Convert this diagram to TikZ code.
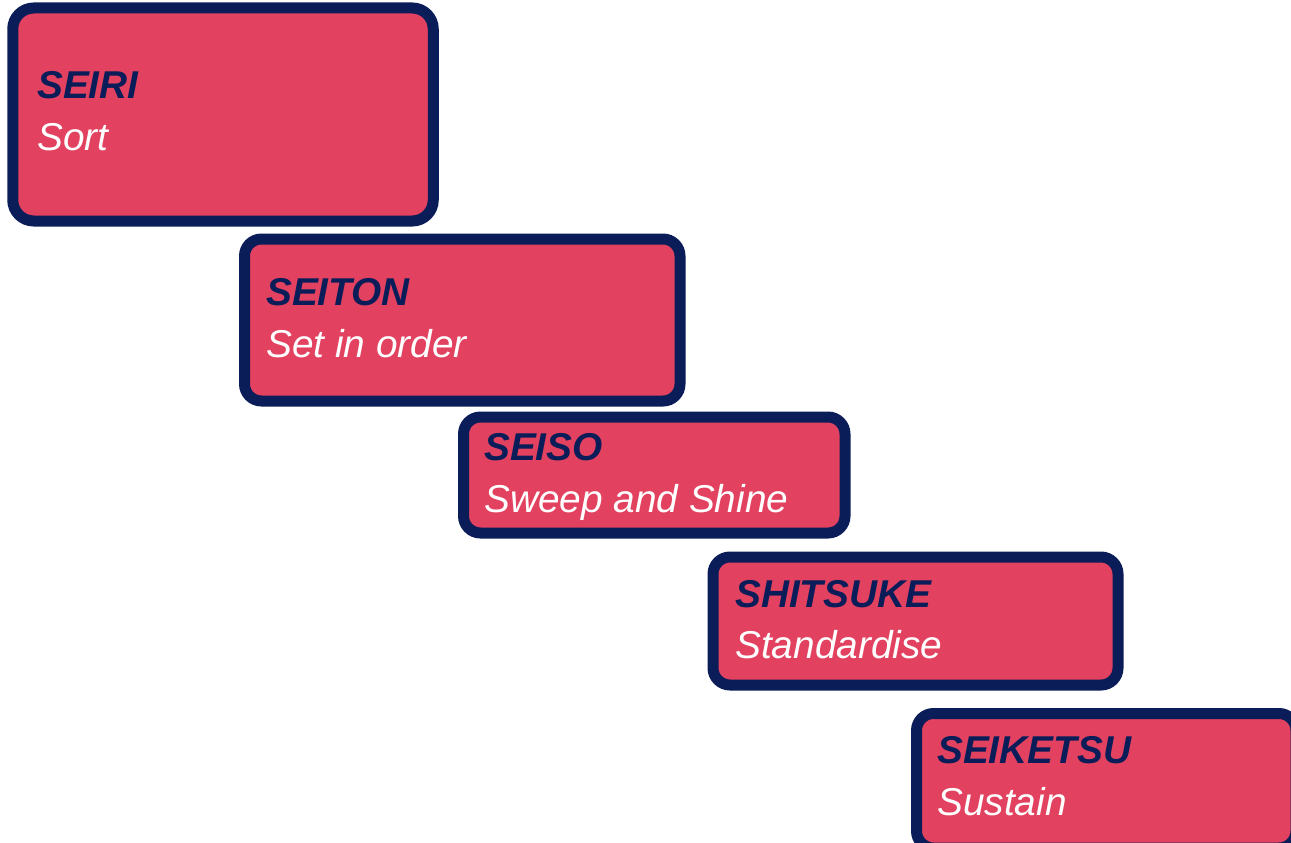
\documentclass[tikz,border=0pt]{standalone}
\usepackage{fontspec}
\setmainfont{Liberation Sans}
\definecolor{boxfill}{HTML}{E34160}
\definecolor{boxline}{HTML}{0A1D58}
\begin{document}
\begin{tikzpicture}[x=1pt,y=-1pt,
  sbox/.style={draw=boxline,fill=boxfill,line width=11pt,rounded corners=17pt,rectangle,inner sep=0pt},
  jp/.style={anchor=base west,inner sep=0pt,text=boxline,font=\fontsize{38.8}{46}\selectfont\bfseries\itshape},
  en/.style={anchor=base west,inner sep=0pt,text=white,font=\fontsize{38.8}{46}\selectfont\itshape}]
\useasboundingbox (0,0) rectangle (1291,843);
\node[sbox,rounded corners=21pt,minimum width=420.5pt,minimum height=213pt] (b1) at (223,114.5) {};
\node[sbox,minimum width=435.5pt,minimum height=162pt] (b2) at (462.25,320) {};
\node[sbox,minimum width=381.5pt,minimum height=116pt] (b3) at (654.25,475) {};
\node[sbox,minimum width=405pt,minimum height=128pt] (b4) at (915.5,621) {};
\node[sbox,minimum width=379.5pt,minimum height=134.5pt] (b5) at (1106.25,780.75) {};
\node[jp] (j1) at (37,99) {SEIRI};
\node[en] (e1) at (37,150) {Sort};
\node[jp] (j2) at (266,305) {SEITON};
\node[en] (e2) at (266,357) {Set in order};
\node[jp] (j3) at (484,460) {SEISO};
\node[en] (e3) at (484,512) {Sweep and Shine};
\node[jp] (j4) at (735,607) {SHITSUKE};
\node[en] (e4) at (735,658) {Standardise};
\node[jp] (j5) at (937,763) {SEIKETSU};
\node[en] (e5) at (937,815) {Sustain};
\end{tikzpicture}
\end{document}
